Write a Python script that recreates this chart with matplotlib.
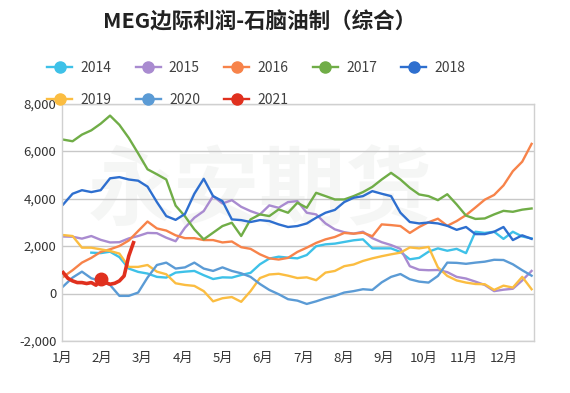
import numpy as np
import matplotlib
matplotlib.use('Agg')
import matplotlib.pyplot as plt
from matplotlib.lines import Line2D
from matplotlib.ticker import FuncFormatter

plt.rcParams['font.family'] = ['Noto Sans CJK SC', 'DejaVu Sans']

title = 'MEG边际利润-石脑油制（综合）'
month_labels = ['1月', '2月', '3月', '4月', '5月', '6月', '7月', '8月', '9月', '10月', '11月', '12月']
years = ['2014', '2015', '2016', '2017', '2018', '2019', '2020', '2021']
nan = np.nan

# weekly values (51 points across the year)
v2014 = [nan, nan, nan, 1720, 1700, 1760, 1530, 1050, 910, 840, 700, 670, 880,
         920, 950, 770, 610, 680, 670, 780, 870, 1230, 1470, 1550, 1510, 1480,
         1620, 1990, 2070, 2100, 2170, 2240, 2280, 1900, 1900, 1900, 1750, 1440, 1500,
         1760, 1900, 1800, 1880, 1700, 2600, 2550, 2600, 2300, 2600, 2400, 2320]
v2015 = [2400, 2390, 2310, 2420, 2260, 2150, 2160, 2320, 2420, 2550, 2540, 2350, 2200,
         2770, 3190, 3470, 4100, 3790, 3930, 3650, 3470, 3330, 3710, 3610, 3850, 3890,
         3400, 3330, 2950, 2700, 2580, 2520, 2600, 2330, 2160, 2040, 1880, 1150, 1000,
         980, 990, 900, 700, 630, 500, 360, 100, 160, 200, 550, 950]
v2016 = [700, 980, 1300, 1500, 1750, 1860, 2000, 2230, 2630, 3030, 2740, 2650, 2450,
         2330, 2330, 2250, 2250, 2150, 2190, 1950, 1880, 1650, 1480, 1430, 1500, 1750,
         1930, 2130, 2280, 2380, 2550, 2520, 2560, 2410, 2910, 2880, 2840, 2550, 2800,
         3000, 3150, 2850, 3050, 3300, 3620, 3950, 4150, 4550, 5150, 5550, 6300]
v2017 = [6480, 6410, 6690, 6870, 7150, 7490, 7100, 6550, 5900, 5230, 5020, 4800, 3700,
         3250, 2700, 2280, 2560, 2840, 2980, 2420, 3120, 3330, 3260, 3540, 3400, 3820,
         3610, 4240, 4100, 3960, 3960, 4100, 4270, 4490, 4800, 5080, 4800, 4450, 4170,
         4100, 3930, 4180, 3750, 3280, 3140, 3160, 3330, 3480, 3440, 3530, 3580]
v2018 = [3750, 4200, 4350, 4270, 4350, 4850, 4900, 4800, 4750, 4500, 3850, 3260, 3100,
         3350, 4200, 4830, 4100, 3890, 3120, 3090, 3010, 3090, 3050, 2910, 2800, 2840,
         2950, 3190, 3400, 3520, 3850, 4030, 4100, 4310, 4200, 4100, 3400, 3010, 2950,
         2990, 2950, 2850, 2680, 2800, 2500, 2500, 2600, 2800, 2250, 2450, 2300]
v2019 = [2460, 2420, 1930, 1930, 1860, 1790, 1680, 1120, 1120, 1200, 920, 810, 430,
         360, 320, 100, -330, -200, -150, -350, 100, 650, 800, 830, 750, 650,
         680, 560, 880, 950, 1150, 1220, 1370, 1480, 1570, 1650, 1720, 1940, 1900,
         1960, 1100, 740, 550, 460, 400, 390, 150, 330, 250, 700, 180]
v2020 = [300, 670, 920, 640, 530, 360, -100, -100, 40, 670, 1200, 1300, 1050,
         1100, 1300, 1050, 950, 1100, 950, 850, 700, 400, 150, -30, -240, -300,
         -440, -330, -200, -100, 40, 100, 180, 150, 470, 700, 820, 600, 500,
         460, 740, 1300, 1290, 1250, 1300, 1340, 1420, 1410, 1230, 980, 750]
# half-weekly values for 2021
v2021 = [880, 640, 530, 460, 460, 420, 460, 350, 600, 460, 390, 430, 530, 740, 1580, 2140]
highlight_2021 = 8

series = [v2014, v2015, v2016, v2017, v2018, v2019, v2020]
colors = ['#3ec1e8', '#a98bd0', '#f7834a', '#70ad47', '#2e6fcf', '#fbbd41', '#5b9bd5', '#e0301e']

fig = plt.figure(figsize=(5.7, 3.93), dpi=100)
ax = fig.add_axes([62 / 570, 1 - 341 / 393, 472 / 570, (341 - 103.5) / 393])

# faint watermark
ax.text(0.42, 0.62, '永安期货', transform=ax.transAxes, fontsize=62, fontweight='bold',
        color='#f5f6f5', ha='center', va='center', zorder=0)

x = np.linspace(0.03, 11.68, 51)
step = x[1] - x[0]
x21 = x[0] + step / 2 * np.arange(len(v2021))

for vals, c in zip(series, colors[:7]):
    ax.plot(x, vals, color=c, lw=1.7, zorder=2, solid_joinstyle='round')
ax.plot(x21, v2021, color=colors[7], lw=2.6, zorder=3, solid_joinstyle='round')
ax.plot(x21[highlight_2021], v2021[highlight_2021], 'o', color=colors[7], ms=9, zorder=4)

ax.set_xlim(0, 11.74)
ax.set_ylim(-2000, 8000)
ax.set_yticks(range(-2000, 8001, 2000))
ax.yaxis.set_major_formatter(FuncFormatter(lambda v, p: f'{int(v):,}'))
ax.set_xticks(range(12))
ax.set_xticklabels(month_labels)
ax.tick_params(axis='both', length=0, labelsize=9.5, colors='#333333')
ax.tick_params(axis='y', pad=4)
ax.tick_params(axis='x', pad=8)
ax.grid(axis='y', color='#c8c8c8', lw=1)
ax.set_axisbelow(True)
for s in ax.spines.values():
    s.set_color('#d0d0d0')
    s.set_linewidth(1)

fig.text(0.456, 0.944, title, ha='center', va='center', fontsize=15.5, fontweight='bold', color='#222222')

def handle(c):
    return Line2D([0], [0], color=c, lw=1.7, marker='o', ms=8)

leg_kw = dict(frameon=False, fontsize=10, handlelength=1.8, handletextpad=0.6,
              columnspacing=1.75, borderpad=0, borderaxespad=0, labelcolor='#404040')
fig.legend([handle(c) for c in colors[:5]], years[:5], ncol=5, loc='center left',
           bbox_to_anchor=(47 / 570, 1 - 68 / 393), **leg_kw)
fig.legend([handle(c) for c in colors[5:]], years[5:], ncol=3, loc='center left',
           bbox_to_anchor=(47 / 570, 1 - 100 / 393), **leg_kw)

fig.savefig('out.png', dpi=100, facecolor='white')
